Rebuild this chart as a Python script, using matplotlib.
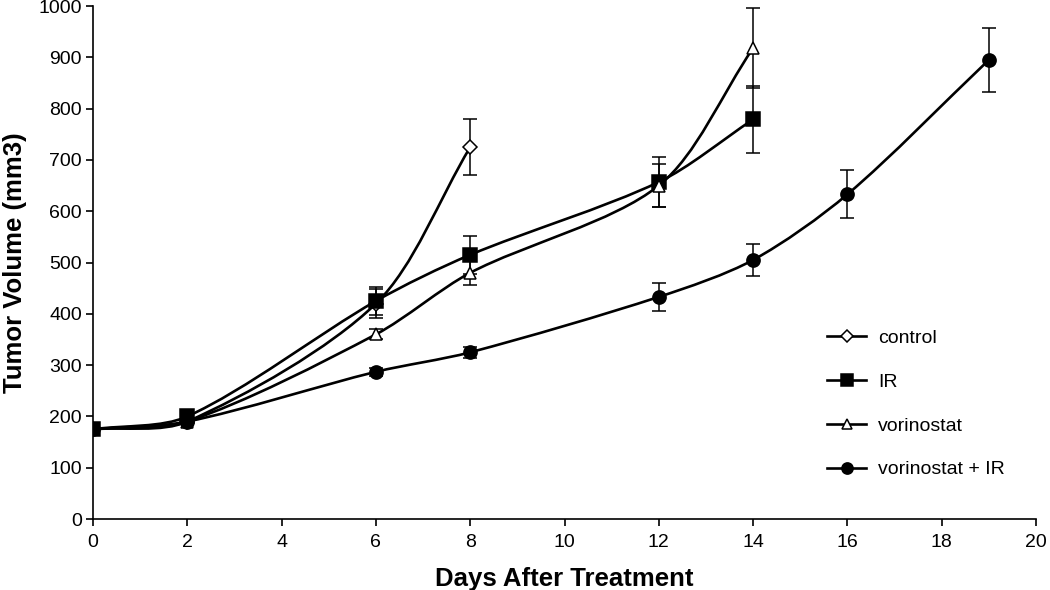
import numpy as np
import matplotlib
matplotlib.use("Agg")
from matplotlib import pyplot as plt
from matplotlib.path import Path
from matplotlib.patches import PathPatch

plt.rcParams['font.family'] = ['Liberation Sans', 'DejaVu Sans']

# data
labels = ["control", "IR", "vorinostat", "vorinostat + IR"]

control_days = [0, 2, 6, 8]
control_vol = [175, 190, 420, 725]
control_err = [0, 0, 28, 55]

ir_days = [0, 2, 6, 8, 12, 14]
ir_vol = [175, 200, 425, 515, 657, 779]
ir_err = [0, 0, 28, 37, 48, 65]

vor_days = [0, 2, 6, 8, 12, 14]
vor_vol = [175, 190, 360, 480, 650, 918]
vor_err = [0, 0, 10, 23, 42, 78]

combo_days = [0, 2, 6, 8, 12, 14, 16, 19]
combo_vol = [175, 190, 287, 325, 433, 505, 633, 895]
combo_err = [0, 0, 8, 11, 27, 31, 47, 62]


def smooth_path(ax, x, y, s=0.3):
    # Excel-like smoothed line, built in screen space then mapped back to data
    to_px = ax.transData
    pts = to_px.transform(np.column_stack([x, y]).astype(float))
    n = len(pts)
    verts = [pts[0]]
    codes = [Path.MOVETO]
    for i in range(n - 1):
        p0 = pts[i - 1] if i > 0 else pts[i]
        p1 = pts[i]
        p2 = pts[i + 1]
        p3 = pts[i + 2] if i + 2 < n else pts[i + 1]
        d0 = np.hypot(*(p1 - p0))
        d1 = np.hypot(*(p2 - p1))
        d2 = np.hypot(*(p3 - p2))
        c1 = p1 + (p2 - p0) * s * d1 / (d0 + d1) if d0 > 0 else p1 + (p2 - p1) / 3
        c2 = p2 - (p3 - p1) * s * d1 / (d1 + d2) if d2 > 0 else p2 - (p2 - p1) / 3
        verts += [c1, c2, p2]
        codes += [Path.CURVE4] * 3
    verts = to_px.inverted().transform(np.array(verts))
    return Path(verts, codes)


fig = plt.figure(figsize=(10.5, 5.9), dpi=100)
ax = fig.add_axes([0.0886, 0.1203, 0.8981, 0.8695])
ax.set_xlim(0, 20)
ax.set_ylim(0, 1000)

series = [
    (control_days, control_vol, control_err, 'D', 'white', 7),
    (ir_days, ir_vol, ir_err, 's', 'black', 9.5),
    (vor_days, vor_vol, vor_err, '^', 'white', 9),
    (combo_days, combo_vol, combo_err, 'o', 'black', 9.5),
]

for (d, v, e, m, fc, ms), lab in zip(series, labels):
    ax.add_patch(PathPatch(smooth_path(ax, d, v), facecolor='none',
                           edgecolor='black', lw=1.9, zorder=2))
    ax.errorbar(d, v, yerr=e, fmt='none', ecolor='black', elinewidth=1.1,
                capsize=5, capthick=1.1, zorder=3)
    ax.plot(d, v, linestyle='none', marker=m, markersize=ms,
            markerfacecolor=fc, markeredgecolor='black', markeredgewidth=1.1,
            zorder=4)
    # legend proxy
    ax.plot([], [], color='black', lw=1.9, marker=m, markersize=ms * 0.85,
            markerfacecolor=fc, markeredgecolor='black', markeredgewidth=1.1,
            label=lab)

ax.set_xticks(np.arange(0, 21, 2))
ax.set_yticks(np.arange(0, 1001, 100))
ax.spines['top'].set_visible(False)
ax.spines['right'].set_visible(False)
for s in ['left', 'bottom']:
    ax.spines[s].set_linewidth(1.2)
ax.tick_params(direction='out', length=5, width=1.2, labelsize=14)
ax.tick_params(axis='x', pad=6)
ax.tick_params(axis='y', pad=3)

ax.set_xlabel('Days After Treatment', fontsize=18.5, fontweight='bold', labelpad=11)
ax.set_ylabel('Tumor Volume (mm3)', fontsize=18.5, fontweight='bold', labelpad=8)

ax.legend(loc='lower left', bbox_to_anchor=(0.76, 0.045), frameon=False,
          fontsize=14, handlelength=2.0, labelspacing=1.35, handletextpad=0.6)

fig.savefig('out.png', dpi=100)
